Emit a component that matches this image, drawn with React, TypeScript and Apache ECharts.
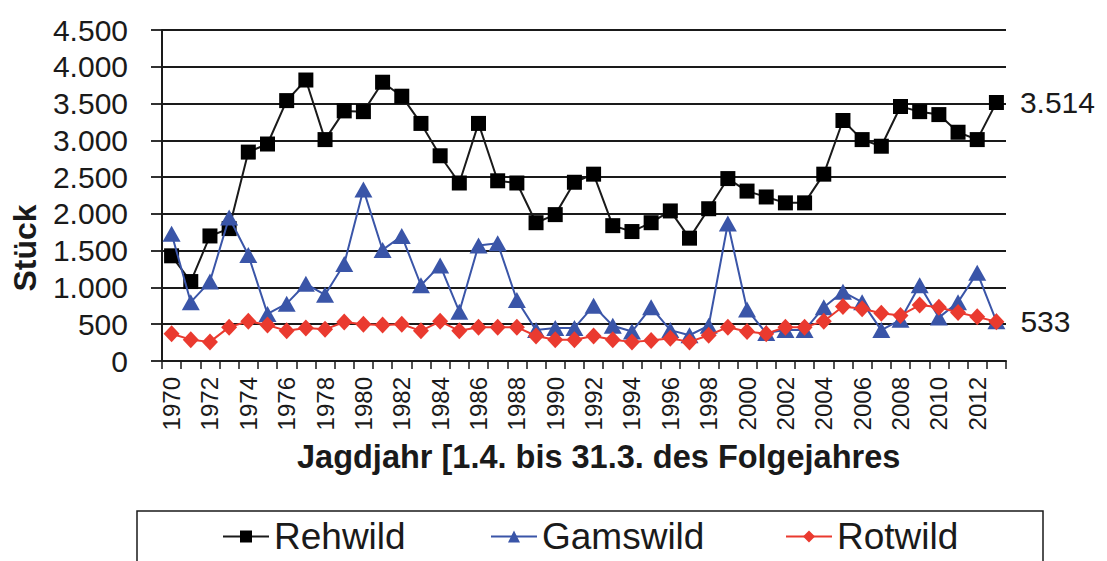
import React, { useEffect, useRef } from "react";
import * as echarts from "echarts";

const years = [
  "1970", "1971", "1972", "1973", "1974", "1975", "1976", "1977", "1978", "1979",
  "1980", "1981", "1982", "1983", "1984", "1985", "1986", "1987", "1988", "1989",
  "1990", "1991", "1992", "1993", "1994", "1995", "1996", "1997", "1998", "1999",
  "2000", "2001", "2002", "2003", "2004", "2005", "2006", "2007", "2008", "2009",
  "2010", "2011", "2012", "2013",
];

const rehwild = [
  1430, 1080, 1700, 1800, 2840, 2950, 3540, 3820, 3010, 3400,
  3390, 3790, 3600, 3230, 2790, 2420, 3230, 2450, 2420, 1880,
  1990, 2430, 2540, 1840, 1760, 1880, 2040, 1670, 2070, 2480,
  2310, 2230, 2150, 2150, 2540, 3270, 3010, 2920, 3460, 3390,
  3350, 3110, 3010, 3514,
];

const gamswild = [
  1730, 800, 1080, 1950, 1440, 640, 780, 1050, 900, 1320,
  2330, 1510, 1700, 1030, 1300, 670, 1570, 1600, 830, 420,
  450, 450, 750, 480, 400, 730, 420, 350, 480, 1870,
  700, 380, 420, 420, 730, 940, 800, 420, 560, 1030,
  590, 800, 1200, 540,
];

const rotwild = [
  370, 290, 260, 460, 540, 490, 410, 450, 430, 530,
  500, 490, 500, 410, 540, 410, 460, 460, 460, 340,
  290, 290, 340, 290, 260, 280, 310, 260, 350, 460,
  400, 370, 460, 460, 540, 740, 710, 650, 620, 760,
  730, 660, 600, 533,
];

const seriesNames = ["Rehwild", "Gamswild", "Rotwild"];
const yTitle = "Stück";
const xTitle = "Jagdjahr [1.4. bis 31.3. des Folgejahres";

const FONT = "'Liberation Sans', Arial, sans-serif";
const INK = "#1a1a1a";

const fmt = (v: number) => {
  const s = String(Math.round(v));
  return s.replace(/\B(?=(\d{3})+(?!\d))/g, ".");
};

const withEndLabel = (arr: number[]) =>
  arr.map((v, i) =>
    i === arr.length - 1
      ? {
          value: v,
          label: {
            show: true,
            position: "right",
            distance: 16,
            formatter: () => fmt(v),
            fontSize: 30,
            fontFamily: FONT,
            color: INK,
          },
        }
      : v
  );

export default function App() {
  const ref = useRef<HTMLDivElement>(null);

  useEffect(() => {
    if (!ref.current) return;
    const chart = echarts.init(ref.current, undefined, { renderer: "svg" });
    const legendBase = {
      top: 518,
      padding: 0,
      itemWidth: 46,
      itemHeight: 15,
      textStyle: { fontSize: 37, fontFamily: FONT, color: INK },
    };
    chart.setOption({
      animation: false,
      backgroundColor: "#ffffff",
      grid: { left: 162, right: 101, top: 30, bottom: 200 },
      legend: [
        { ...legendBase, left: 222, data: [seriesNames[0]] },
        { ...legendBase, left: 490, data: [seriesNames[1]] },
        { ...legendBase, left: 785, data: [seriesNames[2]] },
      ],
      xAxis: {
        type: "category",
        data: years,
        boundaryGap: true,
        axisLine: { show: true, lineStyle: { color: INK, width: 2 } },
        axisTick: { show: true, interval: 0, length: 8, lineStyle: { color: INK, width: 1.5 } },
        axisLabel: {
          interval: 1,
          rotate: 90,
          margin: 16,
          fontSize: 24,
          fontFamily: FONT,
          color: INK,
        },
        splitLine: { show: false },
      },
      yAxis: {
        type: "value",
        min: 0,
        max: 4500,
        interval: 500,
        axisLine: { show: true, lineStyle: { color: INK, width: 2 } },
        axisTick: { show: true, length: 11, lineStyle: { color: INK, width: 1.8 } },
        axisLabel: {
          margin: 34,
          fontSize: 30,
          fontFamily: FONT,
          color: INK,
          formatter: (v: number) => fmt(v),
        },
        splitLine: { show: true, lineStyle: { color: INK, width: 1.8 } },
      },
      graphic: [
        {
          type: "text",
          x: 25,
          y: 248,
          rotation: Math.PI / 2,
          style: {
            text: yTitle,
            fontSize: 32,
            fontWeight: "bold",
            fontFamily: FONT,
            fill: INK,
            align: "center",
            verticalAlign: "middle",
          },
        },
        {
          type: "text",
          x: 297,
          y: 457,
          style: {
            text: xTitle,
            fontSize: 32.5,
            fontWeight: "bold",
            fontFamily: FONT,
            fill: INK,
            align: "left",
            verticalAlign: "middle",
          },
        },
        {
          type: "rect",
          shape: { x: 137, y: 511, width: 906, height: 80 },
          style: { fill: "none", stroke: INK, lineWidth: 1.5 },
        },
      ],
      series: [
        {
          name: seriesNames[0],
          type: "line",
          data: withEndLabel(rehwild),
          symbol: "rect",
          symbolSize: 15,
          showAllSymbol: true,
          itemStyle: { color: "#000000" },
          lineStyle: { color: INK, width: 2 },
          z: 3,
        },
        {
          name: seriesNames[1],
          type: "line",
          data: gamswild,
          symbol: "triangle",
          symbolSize: [18, 16],
          showAllSymbol: true,
          itemStyle: { color: "#3a55a8" },
          lineStyle: { color: "#3a55a8", width: 2 },
          z: 4,
        },
        {
          name: seriesNames[2],
          type: "line",
          data: withEndLabel(rotwild),
          symbol: "diamond",
          symbolSize: [16, 17],
          showAllSymbol: true,
          itemStyle: { color: "#ea3a2f" },
          lineStyle: { color: "#ea3a2f", width: 2 },
          z: 5,
        },
      ],
    });
    return () => chart.dispose();
  }, []);

  return (
    <div
      ref={ref}
      style={{ position: "absolute", left: 0, top: 0, width: 1107, height: 561 }}
    />
  );
}
